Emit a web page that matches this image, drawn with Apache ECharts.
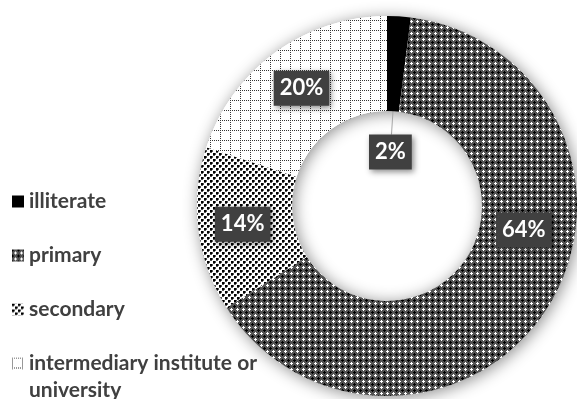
<!DOCTYPE html>
<html>
<head>
<meta charset="utf-8">
<script src="https://cdn.jsdelivr.net/npm/echarts@6/dist/echarts.min.js"></script>
<style>
  html, body { margin: 0; padding: 0; background: #ffffff; }
  #chart { width: 577px; height: 399px; }
</style>
</head>
<body>
<div id="chart"></div>
<script>
// Education level shares (percent)
const categories = ['illiterate', 'primary', 'secondary', 'intermediary institute or university'];
const shares = [2, 64, 14, 20];

// ---- fill patterns ----
function makeTile(w, h, bg, draw) {
  const c = document.createElement('canvas');
  c.width = w; c.height = h;
  const g = c.getContext('2d');
  g.fillStyle = bg;
  g.fillRect(0, 0, w, h);
  draw(g);
  return { image: c, repeat: 'repeat' };
}
function px(g, color, pts) {
  g.fillStyle = color;
  pts.forEach(p => g.fillRect(p[0], p[1], p[2] || 1, p[3] || 1));
}

const solidBlack = '#000000';

// dark checker: gray base, black and white crosses
const checkerFill = makeTile(6, 6, '#525252', g => {
  px(g, '#000000', [[0,0],[1,0],[5,0],[0,1],[0,5]]);
  px(g, '#ffffff', [[3,3],[2,3],[4,3],[3,2],[3,4]]);
});

// staggered dots on white
const dotFill = makeTile(6, 6, '#ffffff', g => {
  px(g, '#000000', [[0,0,2,2],[3,3,2,2]]);
  px(g, '#555555', [[2,0,1,2],[0,2,2,1],[5,3,1,2],[3,5,2,1]]);
});

// dotted grid on white
const gridFill = makeTile(10, 10, '#ffffff', g => {
  for (let i = 0; i < 10; i += 2) {
    px(g, '#333333', [[0, i], [i, 0]]);
  }
});

const fills = [solidBlack, checkerFill, dotFill, gridFill];

const CX = 387, CY = 206, R0 = 95, R1 = 190;
const total = shares.reduce((a, b) => a + b, 0);

// mid angle of a slice, radians clockwise from 12 o'clock
function midAngle(i) {
  let before = 0;
  for (let k = 0; k < i; k++) before += shares[k];
  return (before + shares[i] / 2) / total * Math.PI * 2;
}

const chart = echarts.init(document.getElementById('chart'), null, { renderer: 'canvas' });

const labelBox = {
  color: '#ffffff',
  fontFamily: 'Lato',
  fontWeight: 'bold',
  fontSize: 22,
  backgroundColor: '#404040',
  padding: [7, 6, 6, 6],
  shadowColor: 'rgba(0,0,0,0.45)',
  shadowBlur: 6,
  shadowOffsetX: 2,
  shadowOffsetY: 2,
  formatter: '{c}%'
};

chart.setOption({
  backgroundColor: '#ffffff',
  animation: false,
  legend: {
    orient: 'vertical',
    left: 12,
    top: 191,
    height: 260,
    padding: 0,
    itemGap: 33,
    itemWidth: 12,
    itemHeight: 12,
    icon: 'rect',
    selectedMode: false,
    data: categories,
    formatter: name => name === categories[3]
      ? '{t|intermediary institute or}\n{t|university}'
      : '{t|' + name + '}',
    textStyle: {
      height: 27,
      rich: {
        t: {
          fontFamily: 'Lato',
          fontWeight: 'bold',
          fontSize: 21,
          lineHeight: 27,
          color: '#404040'
        }
      }
    }
  },
  series: [
    {
      // backdrop ring carrying the soft drop shadow
      type: 'pie',
      silent: true,
      center: [CX, CY],
      radius: [R0, R1],
      startAngle: 90,
      label: { show: false },
      labelLine: { show: false },
      itemStyle: {
        color: '#ffffff',
        shadowColor: 'rgba(0,0,0,0.45)',
        shadowBlur: 16,
        shadowOffsetX: 2,
        shadowOffsetY: 2
      },
      data: [{ value: total, name: '' }],
      z: 1
    },
    {
      type: 'pie',
      center: [CX, CY],
      radius: [R0, R1],
      startAngle: 90,
      clockwise: true,
      avoidLabelOverlap: false,
      emphasis: { disabled: true },
      itemStyle: { borderWidth: 0 },
      label: Object.assign({ show: true, position: 'inside' }, labelBox),
      labelLine: {
        show: true,
        showAbove: true,
        lineStyle: { color: '#a6a6a6', width: 1 }
      },
      labelLayout: function (p) {
        if (p.dataIndex === 0) {
          const a = midAngle(0);
          const rm = (R0 + R1) / 2;
          const ax = CX + Math.sin(a) * rm, ay = CY - Math.cos(a) * rm;
          const lx = CX + Math.sin(a) * 54, ly = CY - Math.cos(a) * 54;
          const top = ly - p.labelRect.height / 2;
          const t = (CY - top) / Math.cos(a);
          const ex = CX + Math.sin(a) * t;
          return {
            x: lx, y: ly, align: 'center', verticalAlign: 'middle',
            labelLinePoints: [[ax, ay], [(ax + ex) / 2, (ay + top) / 2], [ex, top]]
          };
        }
        if (p.dataIndex === 1) {
          return { dx: 14, dy: -54 };
        }
        return {};
      },
      data: categories.map((name, i) => ({
        name: name,
        value: shares[i],
        itemStyle: { color: fills[i] },
        label: i === 0 ? { position: 'outside' } : undefined
      })),
      z: 2
    }
  ]
});
</script>
</body>
</html>
